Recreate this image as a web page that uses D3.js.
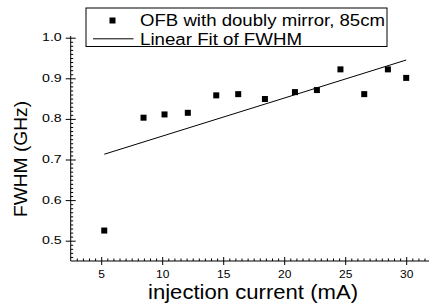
<!DOCTYPE html>
<html><head><meta charset="utf-8">
<script src="https://cdn.jsdelivr.net/npm/d3@7"></script>
<style>
html,body{margin:0;padding:0;background:#fff;overflow:hidden;}
svg{display:block;font-family:Arial,"Liberation Sans",sans-serif;}
</style></head>
<body>
<svg id="chart" width="429" height="307"></svg>
<script>
// Data
const current = [5.25, 8.47, 10.19, 12.1, 14.43, 16.23, 18.42, 20.88, 22.68, 24.61, 26.56, 28.5, 30.0];
const fwhm    = [0.525, 0.803, 0.811, 0.815, 0.858, 0.861, 0.849, 0.866, 0.871, 0.922, 0.861, 0.922, 0.901];
const fitX = [5.25, 30.0];
const fitY = [0.713, 0.945];
const xTicks = [5, 10, 15, 20, 25, 30];
const yTicks = [0.5, 0.6, 0.7, 0.8, 0.9, 1.0];
const seriesNames = ["OFB with doubly mirror, 85cm", "Linear Fit of FWHM"];
const xTitle = "injection current (mA)";
const yTitle = "FWHM (GHz)";

const svg = d3.select("#chart");
const x = d3.scaleLinear().domain([2.5, 32.5]).range([70.7, 436.7]);
const y = d3.scaleLinear().domain([0.45, 1.0]).range([261, 37.7]);

const xMinor = d3.range(3, 32.6, 0.5).filter(v => Math.abs(v % 5) > 1e-6);
const yMinor = d3.range(46, 101, 1).filter(v => v % 10 !== 0).map(v => v / 100);

// X axis
const gx = svg.append("g").attr("transform", `translate(0,${y(0.45)})`);
gx.append("line").attr("x1", x(2.5)).attr("x2", x(32.5)).attr("stroke", "#000").attr("stroke-width", 1);
const gxMinor = gx.append("g").call(d3.axisBottom(x).tickValues(xMinor).tickSizeInner(-2.5).tickSizeOuter(0).tickFormat(""));
const gxMajor = gx.append("g").call(d3.axisBottom(x).tickValues(xTicks).tickSizeInner(4).tickSizeOuter(0).tickFormat(d3.format("d")));
gx.selectAll("path.domain").remove();
gx.selectAll(".tick line").attr("stroke", "#000");
gxMajor.selectAll(".tick line").attr("y1", -4).attr("y2", 4);
gxMajor.selectAll(".tick text").attr("font-size", 10).attr("font-family", "Arial, Liberation Sans")
  .attr("fill", "#000").attr("y", 17.3).attr("dy", null).attr("transform", "scale(1.2,1)");

// Y axis
const gy = svg.append("g").attr("transform", `translate(${x(2.5)},0)`);
gy.append("line").attr("y1", 36).attr("y2", y(0.45)).attr("stroke", "#000").attr("stroke-width", 1);
const gyMinor = gy.append("g").call(d3.axisLeft(y).tickValues(yMinor).tickSizeInner(-2.5).tickSizeOuter(0).tickFormat(""));
const gyMajor = gy.append("g").call(d3.axisLeft(y).tickValues(yTicks).tickSizeInner(5).tickSizeOuter(0).tickFormat(d3.format(".1f")));
gy.selectAll("path.domain").remove();
gy.selectAll(".tick line").attr("stroke", "#000");
gyMajor.selectAll(".tick line").attr("x1", -5).attr("x2", 5);
gyMajor.selectAll(".tick text").attr("font-size", 10.5).attr("font-family", "Arial, Liberation Sans")
  .attr("fill", "#000").attr("x", -9 / 1.35).attr("dy", "0.28em").attr("transform", "scale(1.35,1)");

// Fit line
svg.append("line")
  .attr("x1", x(fitX[0])).attr("y1", y(fitY[0]))
  .attr("x2", x(fitX[1])).attr("y2", y(fitY[1]))
  .attr("stroke", "#000").attr("stroke-width", 1);

// Points
const s = 6;
svg.append("g").selectAll("rect").data(current.map((c, i) => [c, fwhm[i]])).join("rect")
  .attr("x", d => x(d[0]) - s/2).attr("y", d => y(d[1]) - s/2)
  .attr("width", s).attr("height", s).attr("fill", "#000");

// Axis titles
svg.append("text").attr("x", 148).attr("y", 299).attr("font-size", 20)
  .attr("textLength", 210).attr("lengthAdjust", "spacingAndGlyphs")
  .attr("fill", "#000").text(xTitle);
svg.append("text").attr("transform", "translate(27,159) rotate(-90)").attr("text-anchor", "middle")
  .attr("font-size", 19.2).attr("fill", "#000").text(yTitle);

// Legend
const lg = svg.append("g");
lg.append("rect").attr("x", 86).attr("y", 8).attr("width", 301).attr("height", 38.5)
  .attr("fill", "#fff").attr("stroke", "#000").attr("stroke-width", 1);
lg.append("rect").attr("x", 112.5 - s/2).attr("y", 20.5 - s/2).attr("width", s).attr("height", s).attr("fill", "#000");
lg.append("line").attr("x1", 93).attr("x2", 133.5).attr("y1", 38.8).attr("y2", 38.8).attr("stroke", "#000").attr("stroke-width", 1);
lg.append("text").attr("x", 140).attr("y", 25.8).attr("font-size", 16.8)
  .attr("textLength", 245).attr("lengthAdjust", "spacingAndGlyphs").attr("fill", "#000").text(seriesNames[0]);
lg.append("text").attr("x", 140).attr("y", 44.6).attr("font-size", 16.8)
  .attr("textLength", 162).attr("lengthAdjust", "spacingAndGlyphs").attr("fill", "#000").text(seriesNames[1]);
</script>
</body></html>
